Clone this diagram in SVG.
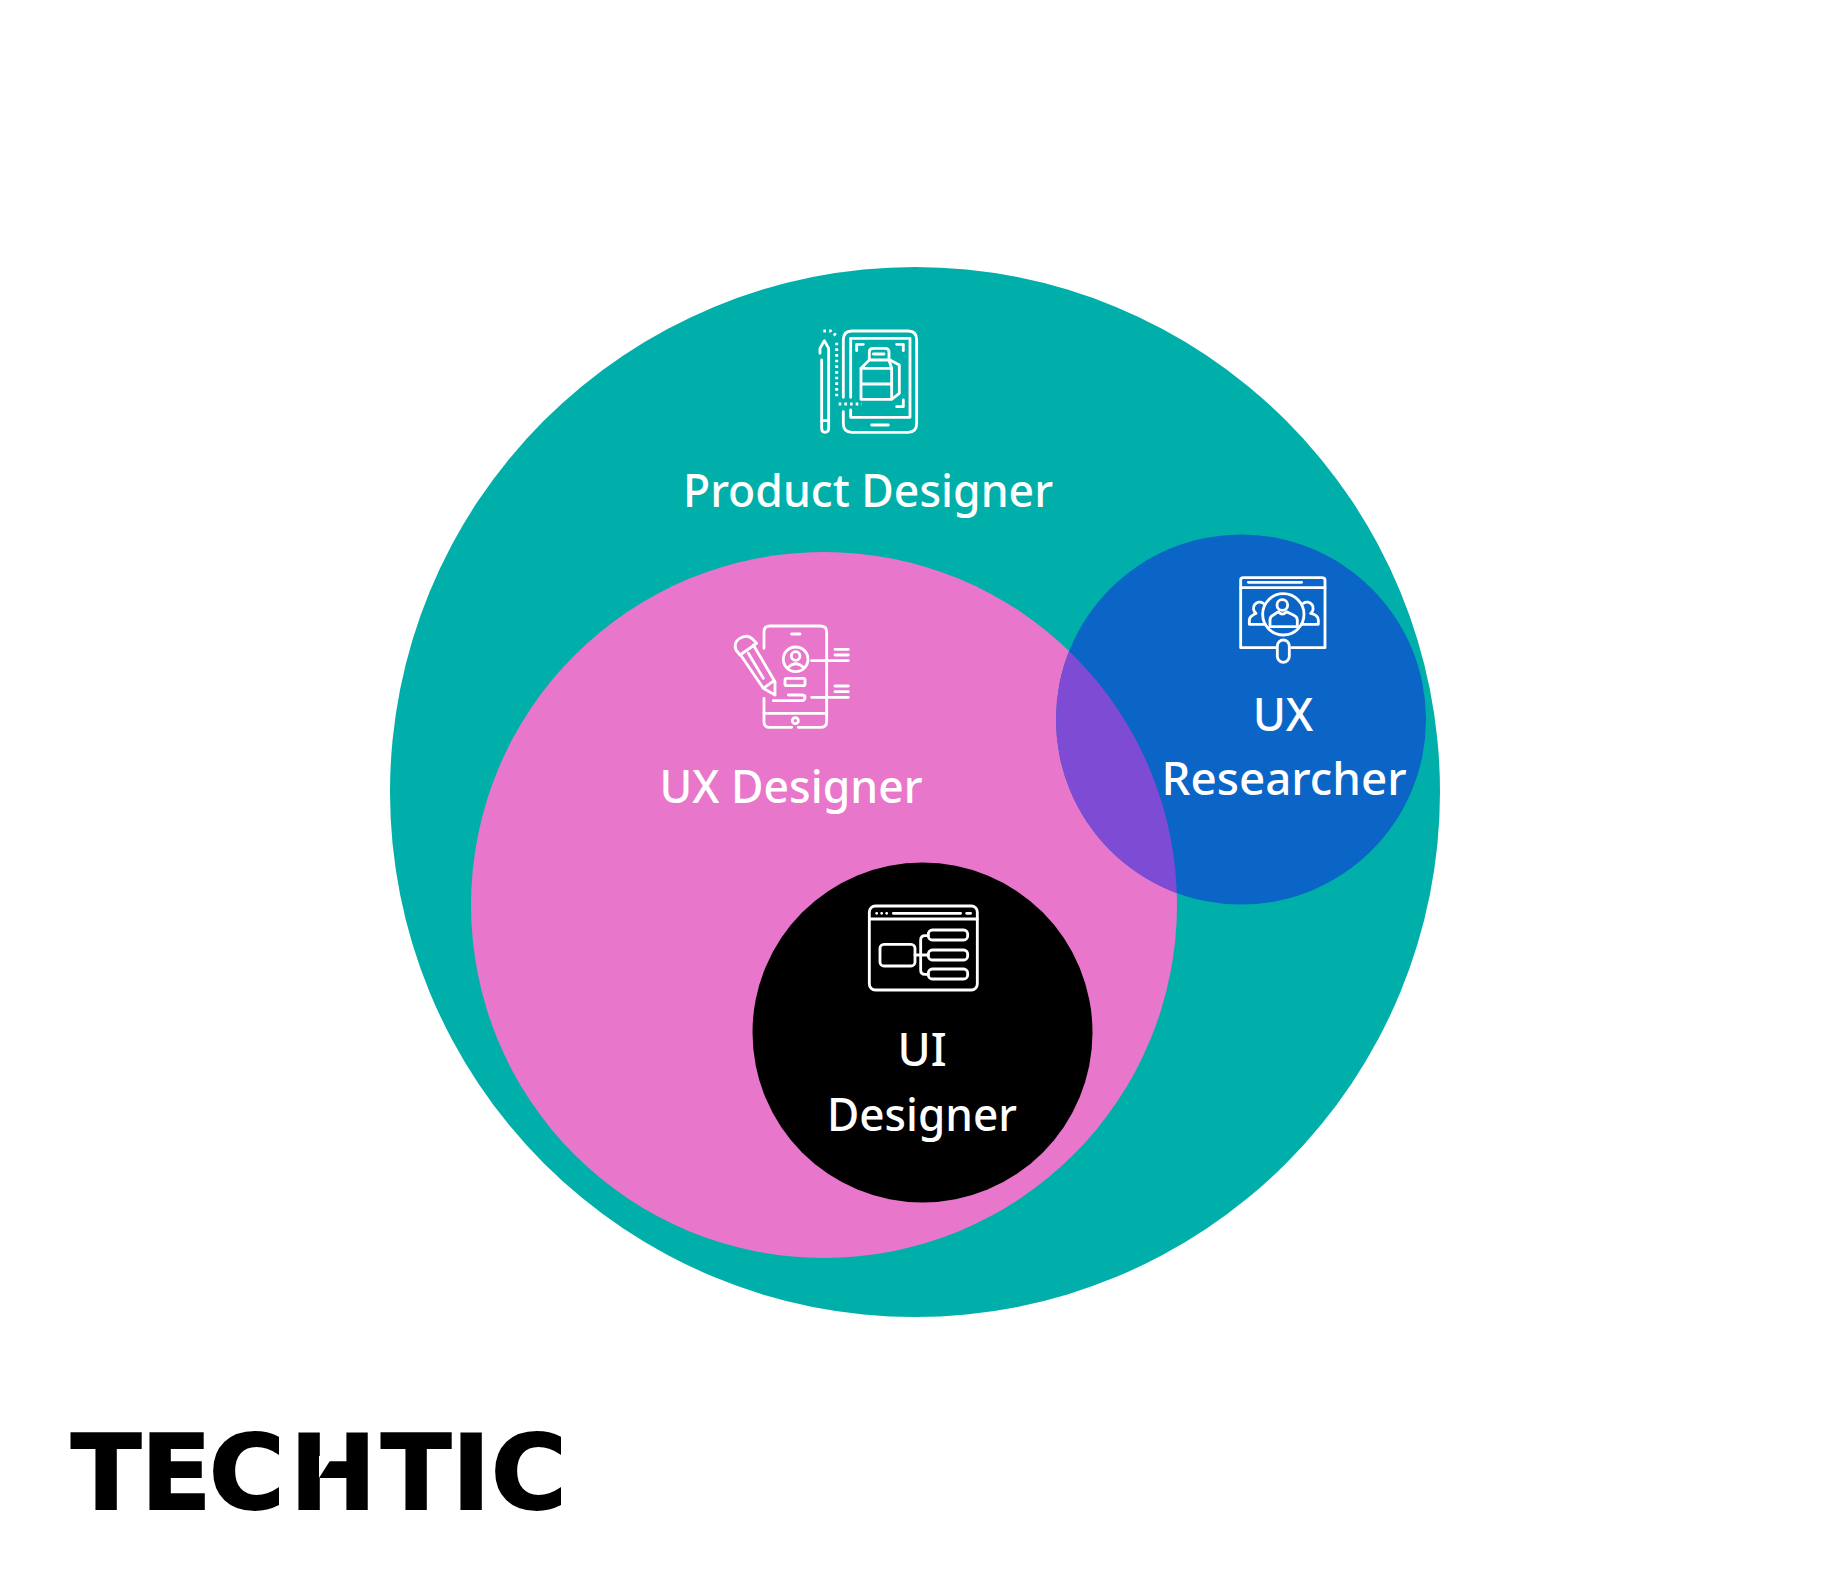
<svg xmlns="http://www.w3.org/2000/svg" width="1830" height="1584" viewBox="0 0 1830 1584">
<style>
.lbl{font-family:"Noto Sans","Open Sans",sans-serif;font-size:45px;font-weight:500;fill:#fff;text-anchor:middle}
.ic{fill:none;stroke:#fff;stroke-width:8.500;stroke-linecap:round;stroke-linejoin:round}
.dots{stroke-linecap:butt;stroke-width:9;stroke-dasharray:8 9}
.logo{font-family:"DejaVu Sans",sans-serif;font-weight:700;font-size:103px;fill:#000;stroke:#000;stroke-width:2}
</style>
<defs>
<clipPath id="pinkClip"><circle cx="824" cy="905" r="353"/></clipPath>
</defs>
<rect width="1830" height="1584" fill="#fff"/>
<g id="product-designer">
<circle cx="915" cy="792" r="525" fill="#00afa9"/>
<g class="ic" transform="translate(780 310) scale(.3333)">
<path d="M190 305V340Q190 367 215 367H385Q410 367 410 340V90Q410 63 385 63H215Q190 63 190 90V262"/>
<path d="M212 262V85H390V322H212V300"/>
<path d="M275 345H325"/>
<path d="M230 122V103H250M350 103H370V122M370 270V290H350"/>
<path d="M268 150V125Q268 115 280 115H315Q327 115 327 125V150L335 175H243L268 150H327"/>
<path d="M280 132H312M243 175V268H335V175M243 222H335M330 150L358 165V250L335 268"/>
<path class="dots" d="M170 98V268"/>
<path class="dots" d="M130 63H152L170 78M176 282H245"/>
<path d="M125 150V355Q125 367 135 367Q146 367 146 355V115L133 92L120 115V130"/>
<path d="M125 332H146"/>
</g>
<text class="lbl" x="868" y="507" textLength="370" lengthAdjust="spacingAndGlyphs">Product Designer</text>
</g>
<g id="ux-designer">
<circle cx="824" cy="905" r="353" fill="#e876cb"/>
<g class="ic" transform="translate(720 610) scale(.3333)">
<path d="M215 352H150Q132 352 132 335V265M235 352H300Q320 352 320 335V65Q320 48 300 48H150Q132 48 132 65V115"/>
<path d="M132 310H320M215 72H240"/>
<circle cx="226" cy="332" r="9"/>
<circle cx="227" cy="148" r="37"/>
<circle cx="227" cy="138" r="13"/>
<path d="M205 172Q227 150 250 172"/>
<rect x="195" y="205" width="60" height="22" rx="5"/>
<path d="M160 272H245Q255 272 255 262Q255 255 245 255H205"/>
<path d="M275 152H385M345 118H385M345 135H385M275 262H385M345 228H385M345 245H385"/>
<path d="M48 120L60 135L110 100L95 85Q80 72 58 86Q40 98 48 120Z"/>
<path d="M62 135L130 235L165 255L165 215L100 105M85 130L130 205M130 235L158 215"/>
</g>
<text class="lbl" x="791" y="803" textLength="263" lengthAdjust="spacingAndGlyphs">UX Designer</text>
</g>
<g id="ux-researcher">
<circle cx="1241" cy="719.500" r="185" fill="#0b65c6"/>
<circle cx="1241" cy="719.500" r="185" fill="#7d4bd4" clip-path="url(#pinkClip)"/>
<g class="ic" transform="translate(1220 565) scale(.3333)">
<path d="M170 248H62V45Q62 38 70 38H305Q315 38 315 45V248H215"/>
<path d="M62 68H315M85 52H245"/>
<circle cx="190" cy="148" r="62"/>
<rect x="172" y="225" width="36" height="67" rx="18"/>
<circle cx="187" cy="120" r="16"/>
<path d="M150 185H232V165Q232 155 220 150L200 140Q187 155 175 140L160 150Q150 155 150 165Z"/>
<path d="M108 145A15 15 0 1 1 130 115M135 178H88V165Q88 155 108 145"/>
<path d="M250 115A15 15 0 1 1 272 145Q295 150 295 165V178H245"/>
</g>
<text class="lbl" x="1283" y="731">UX</text>
<text class="lbl" x="1284" y="795" textLength="245" lengthAdjust="spacingAndGlyphs">Researcher</text>
</g>
<g id="ui-designer">
<circle cx="922.500" cy="1032.500" r="170" fill="#000"/>
<g class="ic" transform="translate(860 895) scale(.3333)">
<rect x="28" y="33" width="324" height="252" rx="18"/>
<path d="M28 72H352M100 55H302M320 55H332M50 55H50.100M65 55H65.100M80 55H80.100"/>
<rect x="60" y="148" width="105" height="65" rx="12"/>
<path d="M165 180H205M205 122H195Q182 122 182 135V225Q182 238 195 238H205"/>
<rect x="205" y="105" width="118" height="30" rx="12"/>
<rect x="205" y="165" width="118" height="30" rx="12"/>
<rect x="205" y="222" width="118" height="30" rx="12"/>
</g>
<text class="lbl" x="922" y="1066">UI</text>
<text class="lbl" x="922" y="1131" textLength="190" lengthAdjust="spacingAndGlyphs">Designer</text>
</g>
<g id="logo">
<text class="logo" x="71 141 209 290 381 452 491" y="1509">TECHTIC</text>
<polygon points="319,1456 333,1456 319,1478" fill="#fff"/>
</g>
<g id="connectors"/>
</svg>
